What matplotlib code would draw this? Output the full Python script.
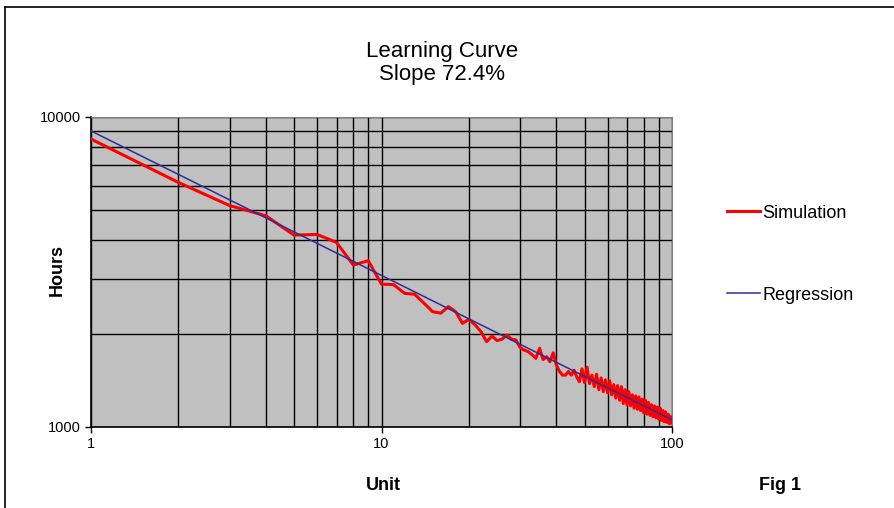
import numpy as np
import matplotlib
matplotlib.use('Agg')
import matplotlib.pyplot as plt
from matplotlib.lines import Line2D

plt.rcParams['font.family'] = ['Liberation Sans', 'DejaVu Sans']

# simulated hours per unit
units = np.arange(1, 101)
hours = [8490, 6150, 5180, 4800, 4160, 4180, 3940, 3330, 3440, 2890,
         2880, 2700, 2680, 2510, 2355, 2330, 2445, 2355, 2160, 2225,
         2135, 2030, 1885, 1965, 1900, 1920, 1980, 1920, 1910, 1805,
         1770, 1750, 1710, 1665, 1795, 1650, 1685, 1625, 1735, 1585,
         1510, 1470, 1470, 1510, 1470, 1525, 1450, 1400, 1540, 1390,
         1560, 1380, 1470, 1350, 1480, 1320, 1440, 1300, 1420, 1290,
         1410, 1270, 1370, 1240, 1360, 1220, 1350, 1190, 1320, 1180,
         1300, 1170, 1270, 1150, 1260, 1140, 1250, 1130, 1230, 1110,
         1220, 1100, 1200, 1090, 1180, 1080, 1170, 1070, 1160, 1060,
         1150, 1050, 1130, 1040, 1120, 1035, 1100, 1025, 1080, 1030]

# regression: first unit hours and learning rate
reg_first = 9016
slope = 0.724
reg_hours = reg_first * units ** np.log2(slope)

fig = plt.figure(figsize=(8.94, 5.08), dpi=100)
ax = fig.add_axes([91/894, 1-427/508, (672-91)/894, (427-117)/508])
ax.set_facecolor('#c0c0c0')

ax.plot(units, hours, color='#ff0000', lw=2.2, label='Simulation', zorder=3)
ax.plot(units, reg_hours, color='#2e2e99', lw=1.1, label='Regression', zorder=4)

ax.set_xscale('log')
ax.set_yscale('log')
ax.set_xlim(1, 100)
ax.set_ylim(1000, 10000)

ax.grid(True, which='both', color='black', lw=1.0)
ax.set_axisbelow(True)
ax.tick_params(which='minor', length=0)
ax.tick_params(which='major', length=4, labelsize=10.5, width=1)
ax.set_xticks([1, 10, 100])
ax.set_xticklabels(['1', '10', '100'])
ax.set_yticks([1000, 10000])
ax.set_yticklabels(['1000', '10000'])

for s in ['top', 'right']:
    ax.spines[s].set_color('#808080')
for s in ['left', 'bottom']:
    ax.spines[s].set_color('black')
    ax.spines[s].set_linewidth(1.2)

fig.text(57/894, 1-270/508, 'Hours', fontsize=13, fontweight='bold',
         rotation=90, ha='center', va='center')
fig.text(383/894, 1-485/508, 'Unit', fontsize=13, fontweight='bold', ha='center', va='center')
fig.text(780/894, 1-485/508, 'Fig 1', fontsize=13, fontweight='bold', ha='center', va='center')
fig.text(442/894, 1-63/508, 'Learning Curve\nSlope 72.4%', fontsize=16,
         ha='center', va='center', linespacing=1.1)

fig.legend(handles=[Line2D([], [], color='#ff0000', lw=2.2),
                    Line2D([], [], color='#2e2e99', lw=1.1)],
           labels=['Simulation', 'Regression'],
           loc='center left', bbox_to_anchor=(718/894, 1-254/508),
           frameon=False, fontsize=13, labelspacing=3.6, handlelength=1.8,
           handletextpad=0.15, borderpad=0)

# figure frame
fig.add_artist(Line2D([5/894, 5/894], [0, 1-7/508], color='black', lw=1.2,
                      transform=fig.transFigure))
fig.add_artist(Line2D([5/894, 1], [1-7/508, 1-7/508], color='black', lw=1.2,
                      transform=fig.transFigure))

fig.savefig('out.png', dpi=100)
